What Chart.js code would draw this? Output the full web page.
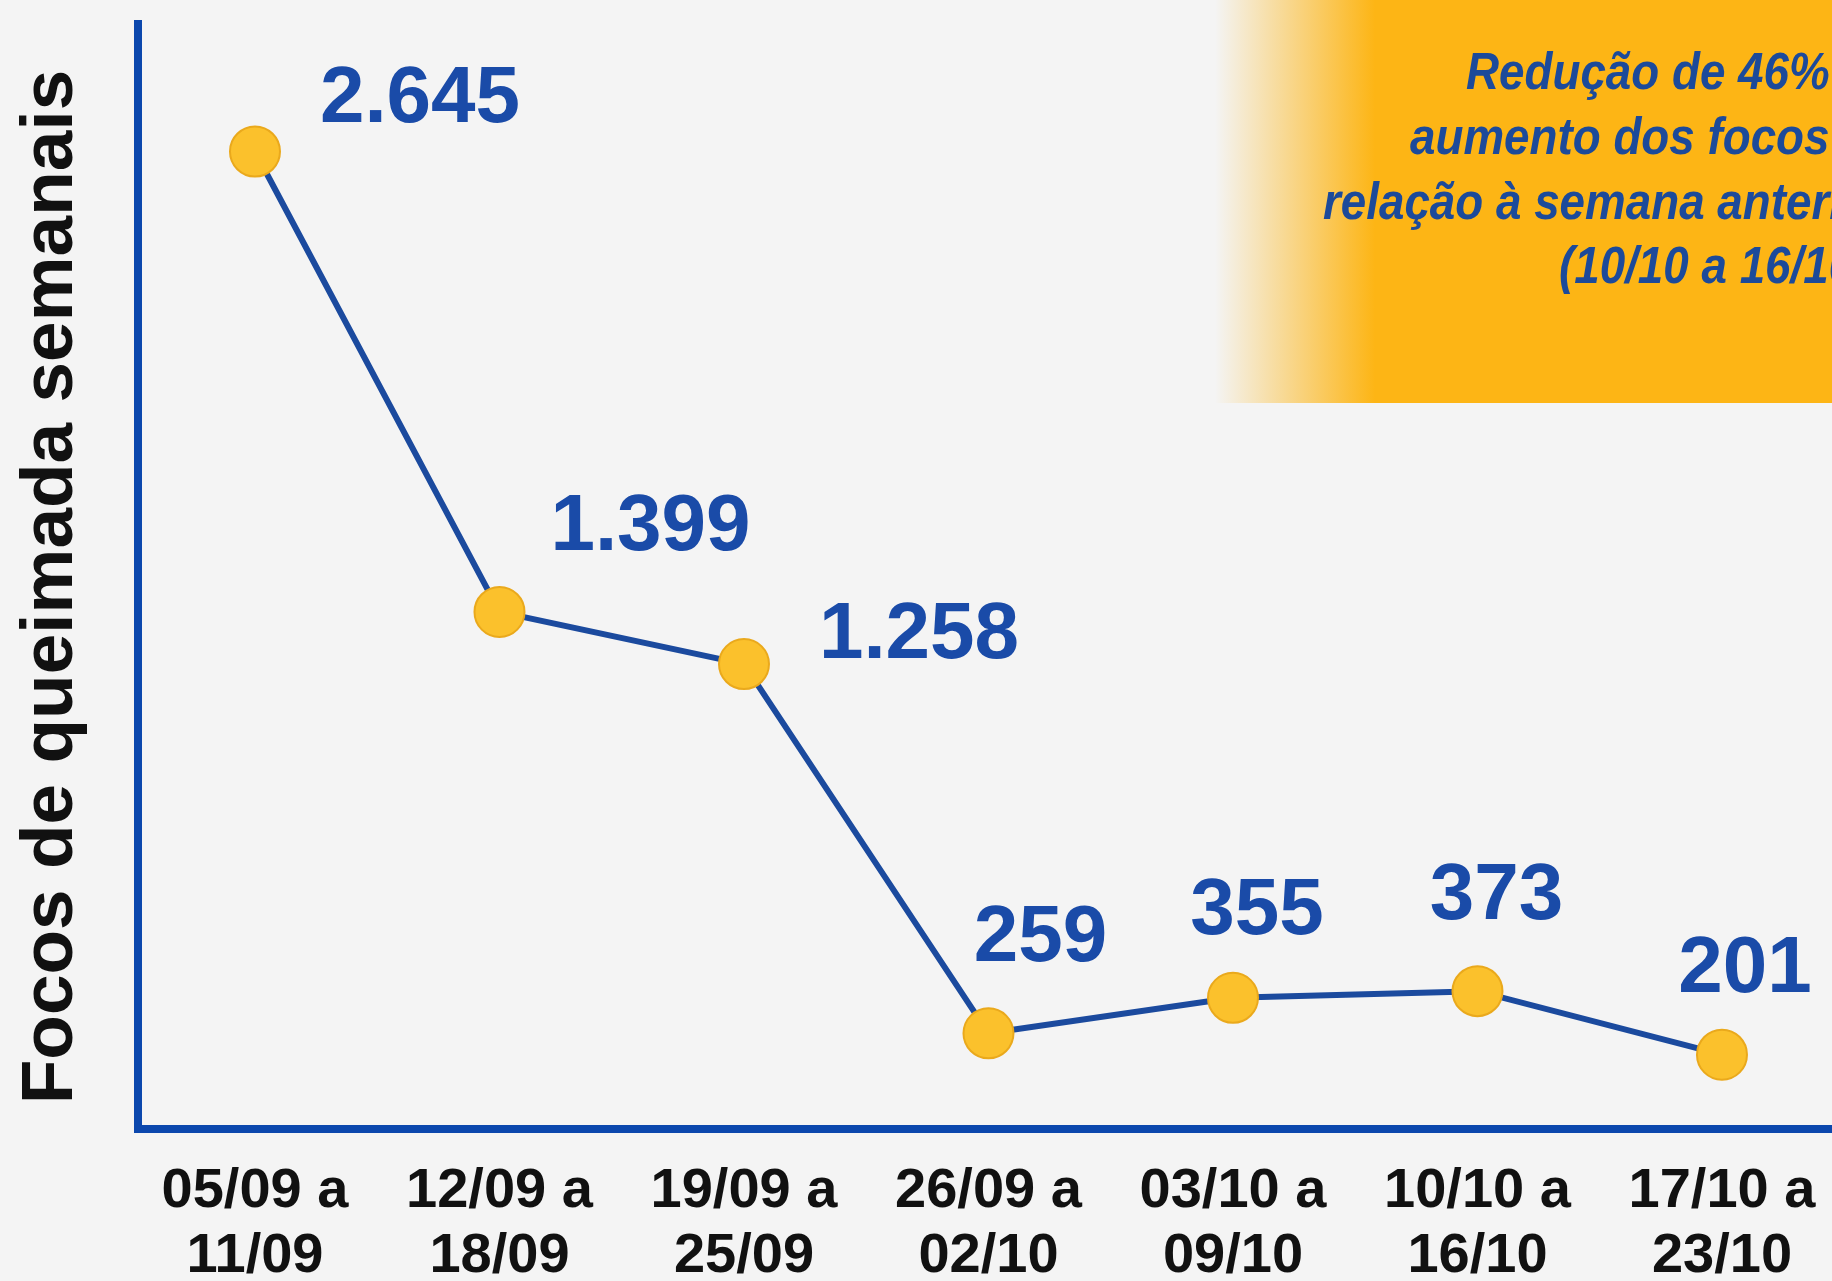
<!DOCTYPE html>
<html>
<head>
<meta charset="utf-8">
<title>Focos de queimada semanais</title>
<script src="https://cdn.jsdelivr.net/npm/chart.js@4.4.0/dist/chart.umd.min.js"></script>
<style>
  html, body { margin: 0; padding: 0; background: #f4f4f4; overflow: hidden; }
</style>
</head>
<body>
<canvas id="focosChart" width="1832" height="1281"></canvas>
<script>
  // semanas (inicio / fim) e focos de queimada por semana
  var weekStart = ['05/09 a', '12/09 a', '19/09 a', '26/09 a', '03/10 a', '10/10 a', '17/10 a'];
  var weekEnd = ['11/09', '18/09', '25/09', '02/10', '09/10', '16/10', '23/10'];
  var focos = [2645, 1399, 1258, 259, 355, 373, 201];
  var focosText = ['2.645', '1.399', '1.258', '259', '355', '373', '201'];
  var boxLines = ['Redução de 46% no', 'aumento dos focos em', 'relação à semana anterior', '(10/10 a 16/10)'];

  var blue = '#0b47ad';

  // where each value label sits relative to its point
  var labelOffsets = [[165, -52], [151, -84], [175, -28], [52, -94], [24, -86], [19, -94], [23, -85]];
  var boxLineX = [1466, 1410, 1323, 1559];
  var boxLineY = [75, 140, 205, 269];
  var squeeze = 0.88; // narrow italic of the note

  var background = {
    id: 'background',
    beforeDraw: function (chart) {
      var ctx = chart.ctx;
      ctx.save();
      ctx.fillStyle = '#f4f4f4';
      ctx.fillRect(0, 0, chart.width, chart.height);

      // orange note box, top right
      var g = ctx.createLinearGradient(1215, 0, 1375, 0);
      g.addColorStop(0, 'rgba(253,181,21,0)');
      g.addColorStop(1, 'rgba(253,181,21,1)');
      ctx.fillStyle = g;
      ctx.fillRect(1215, 0, chart.width - 1215, 403);

      ctx.fillStyle = '#1c4a9a';
      ctx.font = 'italic bold 52px "Liberation Sans", Arial, sans-serif';
      ctx.textAlign = 'left';
      ctx.textBaseline = 'middle';
      boxLines.forEach(function (line, i) {
        ctx.save();
        ctx.translate(boxLineX[i], boxLineY[i]);
        ctx.scale(squeeze, 1);
        ctx.fillText(line, 0, 0);
        ctx.restore();
      });
      ctx.restore();
    }
  };

  var valueLabels = {
    id: 'valueLabels',
    afterDatasetsDraw: function (chart) {
      var ctx = chart.ctx;
      var meta = chart.getDatasetMeta(0);
      ctx.save();
      ctx.fillStyle = '#1a4ba8';
      ctx.font = 'bold 80px "Liberation Sans", Arial, sans-serif';
      ctx.textAlign = 'center';
      ctx.textBaseline = 'middle';
      meta.data.forEach(function (pt, i) {
        ctx.fillText(focosText[i], pt.x + labelOffsets[i][0], pt.y + labelOffsets[i][1]);
      });
      ctx.restore();
    },
    afterDraw: function (chart) {
      var ctx = chart.ctx;
      ctx.save();
      ctx.translate(72, 587);
      ctx.rotate(-Math.PI / 2);
      ctx.fillStyle = '#111';
      ctx.font = 'bold 73px "Liberation Sans", Arial, sans-serif';
      ctx.textAlign = 'center';
      ctx.textBaseline = 'alphabetic';
      ctx.fillText('Focos de queimada semanais', 0, 0);
      ctx.restore();
    }
  };

  var ctx = document.getElementById('focosChart').getContext('2d');
  new Chart(ctx, {
    type: 'line',
    data: {
      datasets: [{
        label: 'Focos de queimada semanais',
        data: focos.map(function (v, i) { return { x: i, y: v }; }),
        borderColor: '#1b4a9e',
        borderWidth: 6,
        pointRadius: 25,
        pointHoverRadius: 25,
        pointBackgroundColor: '#fbc12c',
        pointBorderColor: '#eaa91c',
        pointBorderWidth: 2,
        tension: 0,
        clip: false
      }]
    },
    options: {
      responsive: false,
      animation: false,
      layout: { autoPadding: false, padding: { top: 24, left: 0, right: 0, bottom: 0 } },
      plugins: {
        legend: { display: false },
        tooltip: { enabled: false }
      },
      scales: {
        x: {
          type: 'linear',
          min: -0.4785,
          max: 6.45,
          afterFit: function (s) {
            s.height = 152;
            s.paddingLeft = 0;
            s.paddingRight = 0;
          },
          afterBuildTicks: function (s) {
            s.ticks = weekStart.map(function (_, i) { return { value: i }; });
          },
          grid: { display: false, drawTicks: false },
          border: { display: true, color: blue, width: 8 },
          ticks: {
            autoSkip: false,
            maxRotation: 0,
            padding: 30,
            color: '#111',
            font: { family: '"Liberation Sans", Arial, sans-serif', size: 56, weight: 'bold', lineHeight: 1.16 },
            callback: function (value) {
              return [weekStart[value], weekEnd[value]];
            }
          }
        },
        y: {
          min: 0,
          max: 2990,
          afterFit: function (s) {
            s.width = 138;
            s.paddingTop = 0;
            s.paddingBottom = 0;
          },
          grid: { display: false, drawTicks: false },
          border: { display: true, color: blue, width: 8 },
          ticks: { display: false }
        }
      }
    },
    plugins: [background, valueLabels]
  });
</script>
</body>
</html>
